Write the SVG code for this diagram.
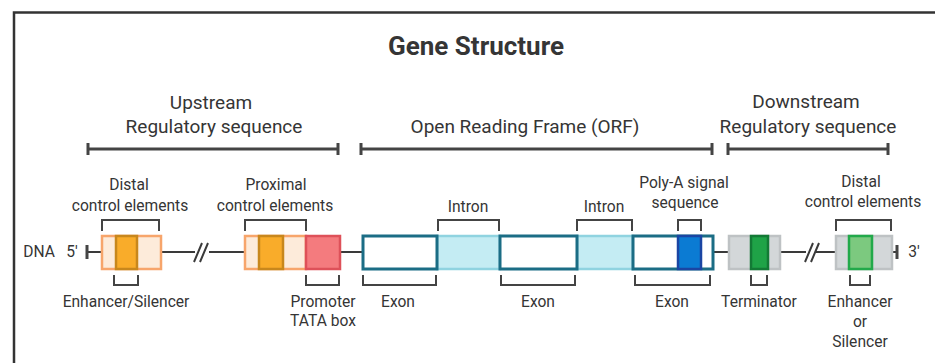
<svg xmlns="http://www.w3.org/2000/svg" width="935" height="363" viewBox="0 0 935 363">
<style>
text{font-family:Roboto,"Liberation Sans",sans-serif;fill:#353535;text-anchor:middle}
.lbl{font-size:15.6px}
.hdr{font-size:19px}
.ttl{font-size:26px;font-weight:bold}
.br{fill:none;stroke:#444;stroke-width:2}
.hb{fill:none;stroke:#444;stroke-width:3}
.dna{fill:none;stroke:#3a3a3a;stroke-width:2}
.peach{fill:#FDEBDA;stroke:#F7A56B;stroke-width:2.5}
.orange{fill:#F9AC2A;stroke:#C8871C;stroke-width:2.5}
.red{fill:#F47B7E;stroke:#DE5159;stroke-width:2.5}
.exon{fill:#fff;stroke:#1B6D85;stroke-width:3}
.intron{fill:#C4ECF3;stroke:#8FD3E0;stroke-width:2.5}
.polya{fill:#0B7BD3;stroke:#1A45A3;stroke-width:2.5}
.gray{fill:#D3D7D9;stroke:#BEC2C4;stroke-width:2.5}
.green{fill:#1FA347;stroke:#137A35;stroke-width:2.5}
.lgreen{fill:#7CC97F;stroke:#22A94A;stroke-width:2.5}
</style>
<path d="M14,363 V12.5 H935" fill="none" stroke="#333" stroke-width="2.5"/>
<text class="ttl" x="476" y="55">Gene Structure</text>

<g id="headers">
<text class="hdr" x="211" y="109">Upstream</text>
<text class="hdr" x="214" y="133">Regulatory sequence</text>
<path class="hb" d="M88,149 H338 M88,143 V155 M338,143 V155"/>
<text class="hdr" x="525" y="133">Open Reading Frame (ORF)</text>
<path class="hb" d="M361,149 H712 M361,143 V155 M712,143 V155"/>
<text class="hdr" x="806" y="108">Downstream</text>
<text class="hdr" x="808" y="133">Regulatory sequence</text>
<path class="hb" d="M728,149 H888 M728,143 V155 M888,143 V155"/>
</g>

<g id="connectors">
<path class="dna" d="M87,252 H102 M161,252 H195 M209,252 H245 M340,252 H363 M713,252 H729 M780,252 H806 M816,252 H836 M892,252 H897"/>
<path class="hb" d="M87,245 V259 M897,245 V259"/>
<path class="dna" d="M194,262 L202,243 M200,262 L208,243 M805,262 L813,243 M811,262 L819,243"/>
</g>

<g id="dna-label">
<text class="lbl" x="39" y="257">DNA</text>
<text class="lbl" x="72" y="257">5'</text>
<text class="lbl" x="914" y="257">3'</text>
</g>

<g id="distal-up">
<rect class="peach" x="102" y="236" width="59" height="33"/>
<rect class="orange" x="116" y="236" width="21" height="33"/>
<path class="br" d="M102,231 V220 H159 V231"/>
<text class="lbl" x="129" y="190">Distal</text>
<text class="lbl" x="130" y="211">control elements</text>
<path class="br" d="M114,275 V285 H138 V275"/>
<text class="lbl" x="126" y="307">Enhancer/Silencer</text>
</g>

<g id="proximal">
<rect class="peach" x="245" y="236" width="61" height="33"/>
<rect class="orange" x="259" y="236" width="24" height="33"/>
<path class="br" d="M245,231 V220 H306 V231"/>
<text class="lbl" x="276" y="190">Proximal</text>
<text class="lbl" x="275" y="211">control elements</text>
</g>

<g id="promoter">
<rect class="red" x="306" y="236" width="34" height="33"/>
<path class="br" d="M306,275 V285 H339 V275"/>
<text class="lbl" x="323" y="307">Promoter</text>
<text class="lbl" x="323" y="326">TATA box</text>
</g>

<g id="orf">
<rect class="intron" x="437" y="236" width="63" height="33"/>
<rect class="intron" x="577" y="236" width="56" height="33"/>
<rect class="exon" x="363" y="236" width="74" height="33"/>
<rect class="exon" x="500" y="236" width="77" height="33"/>
<rect class="exon" x="633" y="236" width="80" height="33"/>
<rect class="polya" x="678" y="236" width="23" height="33"/>
<path class="br" d="M438,231 V220 H499 V231"/>
<text class="lbl" x="468" y="212">Intron</text>
<path class="br" d="M577,231 V220 H632 V231"/>
<text class="lbl" x="604" y="212">Intron</text>
<path class="br" d="M678,231 V220 H701 V231"/>
<text class="lbl" x="684" y="188">Poly-A signal</text>
<text class="lbl" x="685" y="208">sequence</text>
<path class="br" d="M363,275 V285 H436 V275"/>
<text class="lbl" x="398" y="307">Exon</text>
<path class="br" d="M501,275 V285 H575 V275"/>
<text class="lbl" x="538" y="307">Exon</text>
<path class="br" d="M635,275 V285 H710 V275"/>
<text class="lbl" x="672" y="307">Exon</text>
</g>

<g id="terminator">
<rect class="gray" x="729" y="236" width="51" height="33"/>
<rect class="green" x="751" y="236" width="17" height="33"/>
<path class="br" d="M751,275 V285 H767 V275"/>
<text class="lbl" x="759" y="307">Terminator</text>
</g>

<g id="distal-down">
<rect class="gray" x="836" y="236" width="56" height="33"/>
<rect class="lgreen" x="849" y="236" width="23" height="33"/>
<path class="br" d="M836,231 V220 H891 V231"/>
<text class="lbl" x="861" y="187">Distal</text>
<text class="lbl" x="863" y="207">control elements</text>
<path class="br" d="M850,275 V285 H870 V275"/>
<text class="lbl" x="860" y="307">Enhancer</text>
<text class="lbl" x="860" y="327">or</text>
<text class="lbl" x="860" y="347">Silencer</text>
</g>
</svg>
